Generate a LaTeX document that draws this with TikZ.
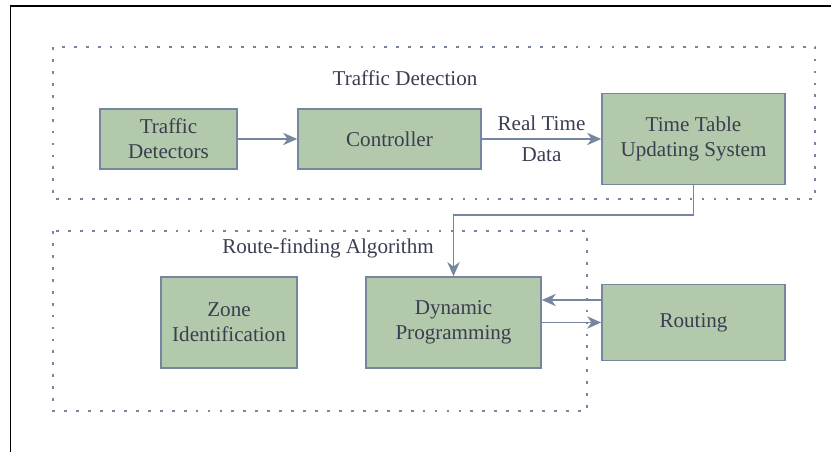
\documentclass[tikz,border=0pt]{standalone}
\usepackage{fontspec}
\setmainfont{LiberationSerif}[Extension=.ttf, UprightFont=*-Regular]
\usepackage{tikz}
\usetikzlibrary{arrows.meta}
\definecolor{sage}{RGB}{178, 201, 171}
\definecolor{slate}{RGB}{118, 134, 160}
\definecolor{ink}{RGB}{58, 62, 80}
\tikzset{
    block/.style={draw=slate, line width=0.9pt, fill=sage, text=ink, align=center,
                  font=\fontsize{12}{14.2}\selectfont, inner sep=0pt},
    flow/.style={draw=slate, line width=0.9pt, -{Stealth[length=8pt, width=7pt, inset=2.5pt]}},
    group/.style={draw=slate, line width=1.6pt, dash pattern=on 1.6pt off 5.2pt},
    caption/.style={text=ink, font=\fontsize{12}{14.2}\selectfont, align=center}
}

\begin{document}
\begin{tikzpicture}
            \useasboundingbox (0.00, 0.00) rectangle (16.62, 9.04);
            % Frame
            \draw[line width=1.1pt]                                       (0.21, 0.00) -- (0.21, 8.92) -- (16.62, 8.92);
            % Traffic Detection
            \draw[group]                                                   (1.06, 8.10) rectangle (16.30, 5.06);
            \node[caption] (detlabel) at ( 8.10, 7.48) {Traffic Detection};
            \node[block, minimum width=2.74cm, minimum height=1.20cm] (detectors) at ( 3.37, 6.26) {Traffic\\Detectors};
            \node[block, minimum width=3.66cm, minimum height=1.20cm] (controller) at ( 7.79, 6.26) {Controller};
            \node[block, minimum width=3.66cm, minimum height=1.82cm] (timetable) at (13.87, 6.26) {Time Table\\Updating System};
            % Route-finding Algorithm
            \draw[group]                                                   (1.06, 4.42) rectangle (11.74, 0.82);
            \node[caption] (routelabel) at ( 6.56, 4.08) {Route-finding Algorithm};
            \node[block, minimum width=2.72cm, minimum height=1.82cm] (zone)    at ( 4.58, 2.59) {Zone\\Identification};
            \node[block, minimum width=3.50cm, minimum height=1.82cm] (dynprog) at ( 9.07, 2.59) {Dynamic\\Programming};
            \node[block, minimum width=3.66cm, minimum height=1.52cm] (routing) at (13.87, 2.59) {Routing};
            % Connectors
            \draw[flow] (detectors) -- (controller);
            \draw[flow] (controller) -- (timetable)
                 node[caption, midway] (rtlabel) {Real Time\\[3.4pt]Data};
            \draw[flow] (timetable.south) -- ++(0, -0.60) -| (dynprog.north);
            \coordinate (back) at ([yshift=0.45cm]routing.west);
            \draw[flow] (back) -- (back -| dynprog.east);
            \draw[flow] (dynprog.east) -- (routing.west);
        \end{tikzpicture}
\end{document}
